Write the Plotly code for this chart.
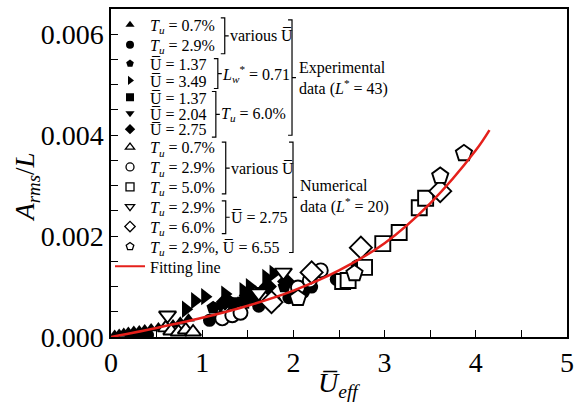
import plotly.graph_objects as go

# ---------------- data (y values in units of 1e-3) ----------------
exp_tu07_x = [0.04, 0.09, 0.14, 0.19, 0.25, 0.31, 0.37, 0.44, 0.52, 0.60, 0.68, 0.76, 0.85]
exp_tu07_y = [0.04, 0.06, 0.08, 0.10, 0.12, 0.13, 0.15, 0.17, 0.19, 0.22, 0.25, 0.30, 0.36]

exp_tu29_x = [0.22, 0.30, 0.40, 1.08, 1.20, 1.40, 1.62, 1.80, 1.95, 2.11, 2.20, 2.47, 2.70]
exp_tu29_y = [0.00, 0.02, 0.04, 0.33, 0.38, 0.48, 0.61, 0.70, 0.78, 0.89, 0.99, 1.14, 1.41]

exp_u137_lw_x = [1.12, 1.30, 1.55, 1.90]
exp_u137_lw_y = [0.58, 0.70, 0.80, 1.00]

exp_u349_lw_x = [0.82, 0.92, 1.03, 1.25, 1.45, 1.52, 1.70, 1.78]
exp_u349_lw_y = [0.55, 0.72, 0.80, 0.85, 0.92, 1.00, 1.18, 1.26]

exp_u137_t6_x = [1.35, 1.45, 1.58]
exp_u137_t6_y = [0.62, 0.68, 0.75]

exp_u204_t6_x = [1.20, 1.40, 1.65]
exp_u204_t6_y = [0.62, 0.72, 0.92]

exp_u275_t6_x = [1.25, 1.50, 1.72, 1.92]
exp_u275_t6_y = [0.70, 0.82, 1.00, 1.10]

num_tu07_x = [0.60, 0.66, 0.74, 0.82, 0.90]
num_tu07_y = [0.18, 0.12, 0.10, 0.14, 0.10]

num_tu29_x = [1.22, 1.33, 1.42, 2.05, 2.18, 2.30]
num_tu29_y = [0.37, 0.43, 0.48, 0.98, 1.12, 1.32]

num_tu50_x = [2.54, 2.60, 2.78, 2.98, 3.16, 3.38, 3.45]
num_tu50_y = [1.10, 1.12, 1.38, 1.85, 2.07, 2.56, 2.75]

num_tu29_u275_x = [0.62, 1.62, 1.89]
num_tu29_u275_y = [0.43, 0.87, 1.28]

num_tu60_u275_x = [1.76, 2.20, 2.74, 3.61]
num_tu60_u275_y = [0.69, 1.28, 1.77, 2.89]

num_tu29_u655_x = [2.05, 2.67, 3.61, 3.87]
num_tu29_u655_y = [0.77, 1.26, 3.19, 3.64]

fit_x = [0.0, 0.5, 1.0, 1.5, 2.0, 2.5, 3.0, 3.5, 4.0, 4.15]
fit_y = [0.0, 0.18, 0.38, 0.62, 0.92, 1.32, 1.86, 2.65, 3.70, 4.10]

x_ticks = [0, 1, 2, 3, 4, 5]
y_ticks = [0.0, 0.002, 0.004, 0.006]

UB = "U\u0305"
def Tu(v):
    return "<i>T<sub>u</sub></i> = " + v
def Ub(v):
    return UB + " = " + v

series = [
    # x, y, symbol, filled, size, legend label
    (exp_tu07_x, exp_tu07_y, "triangle-up", True, 11, Tu("0.7%")),
    (exp_tu29_x, exp_tu29_y, "circle", True, 13, Tu("2.9%")),
    (exp_u137_lw_x, exp_u137_lw_y, "pentagon", True, 14, Ub("1.37")),
    (exp_u349_lw_x, exp_u349_lw_y, "triangle-right", True, 15, Ub("3.49")),
    (exp_u137_t6_x, exp_u137_t6_y, "square", True, 12, Ub("1.37")),
    (exp_u204_t6_x, exp_u204_t6_y, "triangle-down", True, 14, Ub("2.04")),
    (exp_u275_t6_x, exp_u275_t6_y, "diamond", True, 14, Ub("2.75")),
    (num_tu07_x, num_tu07_y, "triangle-up", False, 14, Tu("0.7%")),
    (num_tu29_x, num_tu29_y, "circle", False, 14, Tu("2.9%")),
    (num_tu50_x, num_tu50_y, "square", False, 15, Tu("5.0%")),
    (num_tu29_u275_x, num_tu29_u275_y, "triangle-down", False, 15, Tu("2.9%")),
    (num_tu60_u275_x, num_tu60_u275_y, "diamond", False, 17, Tu("6.0%")),
    (num_tu29_u655_x, num_tu29_u655_y, "pentagon", False, 17, Tu("2.9%") + ", " + Ub("6.55")),
]

# ---------------- geometry ----------------
W, H = 581, 406
ML, MR, MT, MB = 111, 9, 7, 69
PW, PH = W - ML - MR, H - MT - MB

def fx(p):
    return (p - ML) / PW

def fy(p):
    return (H - MB - p) / PH

FONT = "Liberation Serif"
LFS = 16
LEGX = 110
row_y = [23, 43, 62, 79, 96, 112, 128, 146, 166, 186, 206, 226, 246, 266]

fig = go.Figure()
layout_legends = {}

for i, (xs, ys, sym, filled, size, label) in enumerate(series):
    fig.add_trace(go.Scatter(
        x=xs, y=[v * 1e-3 for v in ys], mode="markers", showlegend=False,
        marker=dict(symbol=sym, size=size, color="black" if filled else "white",
                    line=dict(color="black", width=0 if filled else 1.9)),
    ))

fig.add_trace(go.Scatter(x=fit_x, y=[v * 1e-3 for v in fit_y], mode="lines",
                         line=dict(color="#e5201b", width=2.5, shape="spline"),
                         showlegend=False))

def legend_cfg(i):
    return dict(x=fx(LEGX), xanchor="left", y=fy(row_y[i]), yanchor="middle",
                bgcolor="rgba(0,0,0,0)", font=dict(family=FONT, size=LFS, color="black"),
                itemwidth=30, borderwidth=0)

# legend proxies, one legend per row
for i, (xs, ys, sym, filled, size, label) in enumerate(series):
    key = "legend" if i == 0 else f"legend{i+1}"
    fig.add_trace(go.Scatter(
        x=[None], y=[None], mode="markers", name=label, legend=key,
        marker=dict(symbol=sym, size=8, color="black" if filled else "white",
                    line=dict(color="black", width=0 if filled else 1.3)),
    ))
    layout_legends[key] = legend_cfg(i)
key = "legend14"
fig.add_trace(go.Scatter(x=[None], y=[None], mode="lines", name="Fitting line", legend=key,
                         line=dict(color="#e5201b", width=2)))
layout_legends[key] = legend_cfg(13)

# ---------------- brackets ----------------
def bracket(x, y0, y1, arm=4, tick=4):
    ym = (y0 + y1) / 2
    path = (f"M {fx(x-arm)},{fy(y0)} L {fx(x)},{fy(y0)} L {fx(x)},{fy(y1)} L {fx(x-arm)},{fy(y1)} "
            f"M {fx(x)},{fy(ym)} L {fx(x+tick)},{fy(ym)}")
    return dict(type="path", xref="paper", yref="paper", path=path,
                line=dict(color="black", width=1.2))

shapes = [
    bracket(226, 16, 52),
    bracket(219, 57, 87),
    bracket(217, 90, 136),
    bracket(294, 18, 134),
    bracket(227, 141, 193),
    bracket(227, 200, 233),
    bracket(295, 141, 252),
]

def note(x, y, text, size=LFS):
    return dict(x=fx(x), y=fy(y), xref="paper", yref="paper", xanchor="left", yanchor="middle",
                text=text, showarrow=False, align="left",
                font=dict(family=FONT, size=size, color="black"))

annotations = [
    note(229, 34, "various " + UB),
    note(221, 72, "<i>L<sub>w</sub></i><sup>*</sup> = 0.71"),
    note(220, 113, Tu("6.0%")),
    note(299, 77, "Experimental<br>data (<i>L</i><sup>*</sup> = 43)"),
    note(230, 167, "various " + UB),
    note(230, 217, Ub("2.75")),
    note(300, 196, "Numerical<br>data (<i>L</i><sup>*</sup> = 20)"),
    dict(x=fx(26), y=fy(186), xref="paper", yref="paper", xanchor="center", yanchor="middle",
         text="<i>A<sub>rms</sub></i>/<i>L</i>", textangle=-90, showarrow=False,
         font=dict(family=FONT, size=27, color="black")),
    dict(x=fx(341), y=fy(385), xref="paper", yref="paper", xanchor="center", yanchor="middle",
         text="<i>" + UB + "<sub>eff</sub></i>", showarrow=False,
         font=dict(family=FONT, size=28, color="black")),
]

axis_common = dict(showline=True, linecolor="black", linewidth=1.5, mirror=True,
                   ticks="inside", ticklen=7, tickwidth=1.3, tickcolor="black",
                   showgrid=False, zeroline=False, ticklabeloverflow="allow",
                   tickfont=dict(family=FONT, size=28, color="black"))

fig.update_layout(
    width=W, height=H, margin=dict(l=ML, r=MR, t=MT, b=MB),
    paper_bgcolor="white", plot_bgcolor="white",
    font=dict(family=FONT, color="black"),
    xaxis=dict(range=[0, 5], tickvals=x_ticks,
               minor=dict(dtick=0.5, ticks="inside", ticklen=7, tickwidth=1.3, tickcolor="black"),
               **axis_common),
    yaxis=dict(range=[0, 0.0065], tickvals=y_ticks, tickformat=".3f",
               minor=dict(dtick=0.0005, ticks="inside", ticklen=7, tickwidth=1.3, tickcolor="black"),
               **axis_common),
    shapes=shapes, annotations=annotations,
    **layout_legends,
)

fig.write_html("out.html", config={"displayModeBar": False},
               post_script="document.body.style.margin='0px';")
